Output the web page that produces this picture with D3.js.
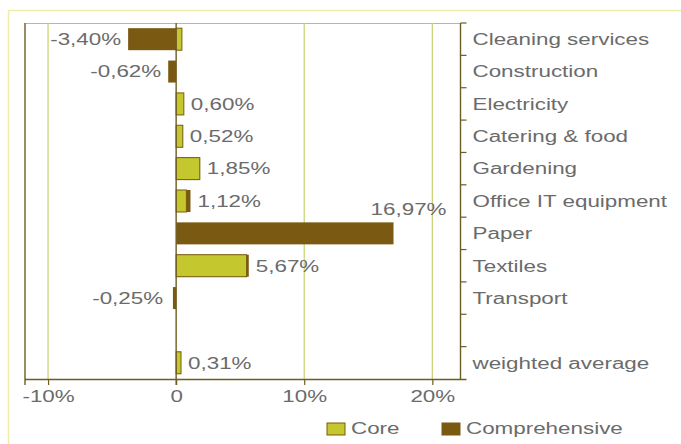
<!DOCTYPE html>
<html>
<head>
<meta charset="utf-8">
<script src="https://cdn.jsdelivr.net/npm/d3@7"></script>
<style>
  html, body { margin: 0; padding: 0; background: #ffffff; }
  svg { display: block; }
  text { font-family: "Liberation Sans", Arial, Helvetica, sans-serif; }
</style>
</head>
<body>
<svg id="chart" width="681" height="444"></svg>
<script>
// ---- data ----
const categories = ["Cleaning services", "Construction", "Electricity", "Catering & food", "Gardening",
  "Office IT equipment", "Paper", "Textiles", "Transport", "", "weighted average"];
const coreValues = [0.45, 0, 0.60, 0.52, 1.85, 0.80, 0, 5.50, 0, null, 0.38];
const comprehensiveValues = [-3.75, -0.62, 0, 0, 1.85, 1.12, 16.97, 5.67, -0.25, null, 0.31];
const labelValues = ["-3,40%", "-0,62%", "0,60%", "0,52%", "1,85%", "1,12%", "16,97%", "5,67%", "-0,25%", "", "0,31%"];
const xTicks = [-10, 0, 10, 20];
const xTickLabels = ["-10%", "0", "10%", "20%"];
const seriesNames = ["Core", "Comprehensive"];

// ---- styles ----
const coreColor = "#c4c82e";
const compColor = "#7a5a12";
const axisColor = "#6e5c22";
const gridColor = "#ccd478";
const textColor = "#6b6b6b";
const frameColor = "#eeeea6";
const SX = 1.4; // horizontal text stretch as in reference

const svg = d3.select("#chart");
const plot = { left: 25, right: 460.5, top: 23, bottom: 379 };

const x = d3.scaleLinear().domain([-11.8, 22.2]).range([plot.left, plot.right]);
const idx = d3.range(categories.length);
const y = d3.scaleBand().domain(idx).range([plot.top, plot.bottom]).paddingInner(0.32).paddingOuter(0.16);
const band = d3.scaleBand().domain(idx).range([plot.top, plot.bottom]);

function stretchedText(g, tx, ty, str, anchor, size, color) {
  return g.append("text")
    .attr("transform", `translate(${tx},${ty}) scale(${SX},1)`)
    .attr("text-anchor", anchor)
    .attr("font-size", size)
    .attr("fill", color)
    .text(str);
}

// outer frame
svg.append("line").attr("x1", 8).attr("x2", 681).attr("y1", 10.5).attr("y2", 10.5)
  .attr("stroke", frameColor).attr("stroke-width", 1.5);
svg.append("line").attr("x1", 8.5).attr("x2", 8.5).attr("y1", 10).attr("y2", 444)
  .attr("stroke", frameColor).attr("stroke-width", 1.5);

// top border of plot
svg.append("line").attr("x1", plot.left).attr("x2", plot.right).attr("y1", plot.top + 0.5).attr("y2", plot.top + 0.5)
  .attr("stroke", "#b8b8a0").attr("stroke-width", 1);

// grid lines
svg.append("g").selectAll("line").data(xTicks.filter(d => d !== 0)).join("line")
  .attr("x1", d => x(d)).attr("x2", d => x(d))
  .attr("y1", plot.top).attr("y2", plot.bottom)
  .attr("stroke", gridColor).attr("stroke-width", 1.3);

// bars: comprehensive behind, core in front
const bars = svg.append("g");
bars.selectAll("rect.comp").data(idx.filter(i => comprehensiveValues[i])).join("rect")
  .attr("class", "comp")
  .attr("x", i => Math.min(x(0), x(comprehensiveValues[i])))
  .attr("width", i => Math.abs(x(comprehensiveValues[i]) - x(0)))
  .attr("y", i => y(i)).attr("height", y.bandwidth())
  .attr("fill", compColor);
bars.selectAll("rect.core").data(idx.filter(i => coreValues[i])).join("rect")
  .attr("class", "core")
  .attr("x", i => Math.min(x(0), x(coreValues[i])))
  .attr("width", i => Math.abs(x(coreValues[i]) - x(0)))
  .attr("y", i => y(i)).attr("height", y.bandwidth())
  .attr("fill", coreColor).attr("stroke", compColor).attr("stroke-width", 1);

// zero line and left border
svg.append("line").attr("x1", x(0)).attr("x2", x(0)).attr("y1", plot.top).attr("y2", plot.bottom + 6)
  .attr("stroke", axisColor).attr("stroke-width", 1.4);
svg.append("line").attr("x1", plot.left).attr("x2", plot.left).attr("y1", plot.top).attr("y2", plot.bottom + 6)
  .attr("stroke", axisColor).attr("stroke-width", 1.4);

// bottom axis
const xAxis = d3.axisBottom(x).tickValues(xTicks).tickSize(6).tickFormat((d, i) => xTickLabels[i]);
const gx = svg.append("g").attr("transform", `translate(0,${plot.bottom})`).call(xAxis);
gx.select(".domain").attr("stroke", axisColor).attr("stroke-width", 1.4)
  .attr("d", `M${plot.left},0.5H${plot.right + 6}`);
gx.selectAll(".tick line").attr("stroke", axisColor).attr("stroke-width", 1.2);
gx.selectAll(".tick text").remove();
gx.selectAll(".tick").each(function (d, i) {
  stretchedText(d3.select(this), 0, 23, xTickLabels[i], "middle", 16, textColor);
});

// right axis
const yAxis = d3.axisRight(band).tickValues([]).tickSize(0);
const gy = svg.append("g").attr("transform", `translate(${plot.right},0)`).call(yAxis);
gy.select(".domain").attr("stroke", axisColor).attr("stroke-width", 1.4)
  .attr("d", `M0,${plot.top}V${plot.bottom}`);
gy.selectAll("line.bnd").data(d3.range(categories.length)).join("line")
  .attr("class", "bnd")
  .attr("x1", 0).attr("x2", 6)
  .attr("y1", i => band(i)).attr("y2", i => band(i))
  .attr("stroke", axisColor).attr("stroke-width", 1.2);
idx.forEach(i => {
  if (categories[i]) stretchedText(gy, 12, band(i) + band.bandwidth() / 2 + 5.8, categories[i], "start", 16, textColor);
});

// value labels
const lg = svg.append("g");
idx.forEach(i => {
  if (!labelValues[i]) return;
  const c = coreValues[i] || 0, p = comprehensiveValues[i] || 0;
  const hi = Math.max(c, p, 0), lo = Math.min(c, p, 0);
  const cy = y(i) + y.bandwidth() / 2 + 5.8;
  if (hi > 15) {
    stretchedText(lg, x(hi) + 53, y(i) - 7, labelValues[i], "end", 16, textColor);
  } else if (lo < 0 && Math.abs(lo) >= hi) {
    stretchedText(lg, Math.min(x(lo), x(0) - 6) - 7, cy, labelValues[i], "end", 16, textColor);
  } else {
    stretchedText(lg, x(hi) + 7, cy, labelValues[i], "start", 16, textColor);
  }
});

// legend
const legend = svg.append("g");
const legendX = [327, 442];
const legendColors = [coreColor, compColor];
seriesNames.forEach((name, i) => {
  legend.append("rect").attr("x", legendX[i]).attr("y", 423).attr("width", 18).attr("height", 12)
    .attr("fill", legendColors[i]).attr("stroke", compColor).attr("stroke-width", 1);
  stretchedText(legend, legendX[i] + 24, 434, name, "start", 16, textColor);
});
</script>
</body>
</html>
